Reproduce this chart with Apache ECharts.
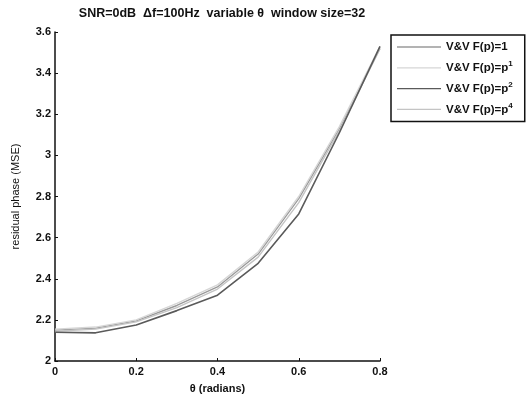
<!DOCTYPE html>
<html>
<head>
<meta charset="utf-8">
<script src="https://cdn.jsdelivr.net/npm/echarts@6/dist/echarts.min.js"></script>
<style>
  html, body { margin: 0; padding: 0; background: #fff; }
  #chart { width: 526px; height: 399px; }
</style>
</head>
<body>
<div id="chart"></div>
<script>
// Angle values (radians) at which the residual phase error was evaluated
const theta = [0, 0.1, 0.2, 0.3, 0.4, 0.5, 0.6, 0.7, 0.8];

// Residual phase MSE for each weighting function F(p)
const mseF1 = [2.150, 2.160, 2.195, 2.270, 2.360, 2.520, 2.790, 3.130, 3.520];
const mseP1 = [2.155, 2.165, 2.200, 2.280, 2.370, 2.530, 2.800, 3.140, 3.530];
const mseP2 = [2.140, 2.137, 2.175, 2.245, 2.320, 2.475, 2.715, 3.110, 3.530];
const mseP4 = [2.145, 2.155, 2.190, 2.260, 2.350, 2.505, 2.770, 3.120, 3.520];

const seriesNames = ['V&V F(p)=1', 'V&V F(p)=p^1', 'V&V F(p)=p^2', 'V&V F(p)=p^4'];
const legendText = {
  'V&V F(p)=1': 'V&V F(p)=1',
  'V&V F(p)=p^1': 'V&V F(p)=p{sup|1}',
  'V&V F(p)=p^2': 'V&V F(p)=p{sup|2}',
  'V&V F(p)=p^4': 'V&V F(p)=p{sup|4}'
};
const yTicks = { min: 2, max: 3.6, step: 0.2 };
const xTicks = { min: 0, max: 0.8, step: 0.2 };

const FONT = '"Liberation Sans", Arial, sans-serif';
const colors = ['#9a9a9a', '#d6d6d6', '#5a5a5a', '#c4c4c4'];
const allData = [mseF1, mseP1, mseP2, mseP4];

function pairs(ys) { return theta.map((t, i) => [t, ys[i]]); }

const chart = echarts.init(document.getElementById('chart'), null, { renderer: 'canvas' });
chart.setOption({
  backgroundColor: '#ffffff',
  animation: false,
  title: {
    text: 'SNR=0dB  \u0394f=100Hz  variable \u03b8  window size=32',
    left: 217, top: 2, textAlign: 'center',
    textStyle: { fontFamily: FONT, fontSize: 12.5, fontWeight: 'bold', color: '#111' }
  },
  grid: { left: 55, right: 146, top: 32, bottom: 37, containLabel: false },
  legend: {
    orient: 'vertical',
    left: 391, top: 35,
    width: 124,
    padding: [6, 12, 6, 6],
    borderColor: '#111', borderWidth: 1.5,
    backgroundColor: '#fff',
    itemWidth: 44, itemHeight: 12, itemGap: 6.8,
    icon: 'path://M0,5.5 L44,5.5 L44,6.8 L0,6.8 Z',
    data: seriesNames,
    formatter: function (n) { return legendText[n]; },
    textStyle: {
      fontFamily: FONT, fontSize: 11.5, fontWeight: 'bold', color: '#111',
      rich: {
        sup: { fontFamily: FONT, fontSize: 8, fontWeight: 'bold', color: '#111', verticalAlign: 'bottom', padding: [0, 0, 8, 0] }
      }
    }
  },
  xAxis: {
    type: 'value', min: xTicks.min, max: xTicks.max, interval: xTicks.step,
    name: '\u03b8 (radians)', nameLocation: 'middle', nameGap: 22,
    nameTextStyle: { fontFamily: FONT, fontSize: 11, fontWeight: 'bold', color: '#111' },
    axisLine: { lineStyle: { color: '#111', width: 1.5 } },
    axisTick: { inside: true, length: 3, lineStyle: { color: '#111' } },
    axisLabel: { fontFamily: FONT, fontSize: 11, fontWeight: 'bold', color: '#111', margin: 5 },
    splitLine: { show: false }
  },
  yAxis: {
    type: 'value', min: yTicks.min, max: yTicks.max, interval: yTicks.step,
    name: 'residual phase (MSE)', nameLocation: 'middle', nameGap: 34,
    nameTextStyle: { fontFamily: FONT, fontSize: 11, color: '#111' },
    axisLine: { show: true, lineStyle: { color: '#111', width: 1.5 } },
    axisTick: { show: true, inside: true, length: 3, lineStyle: { color: '#111' } },
    axisLabel: { fontFamily: FONT, fontSize: 11, fontWeight: 'bold', color: '#111', margin: 4 },
    splitLine: { show: false }
  },
  series: seriesNames.map((name, i) => ({
    name: name,
    type: 'line',
    data: pairs(allData[i]),
    showSymbol: false,
    color: colors[i],
    lineStyle: { color: colors[i], width: i === 2 ? 1.6 : 1.4 },
    z: i === 2 ? 3 : 2
  }))
});
</script>
</body>
</html>
